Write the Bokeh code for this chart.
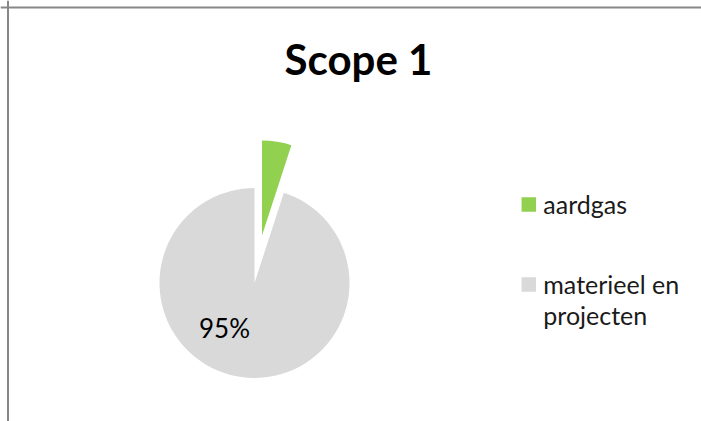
import math
from bokeh.plotting import figure
from bokeh.models import Range1d, Span, ColumnDataSource
from bokeh.core.properties import value
from bokeh.embed import file_html
from bokeh.resources import INLINE

# ---- data ----
title_text = "Scope 1"
categories = ["aardgas", "materieel en\nprojecten"]
shares = [0.05, 0.95]
colors = ["#92D050", "#D9D9D9"]
shown_labels = ["", "95%"]
exploded = [True, False]

# ---- layout ----
W, H = 701, 421
FONT = "Lato"
cx, cy, r = 254, 138.5, 95
explode_px = 48

p = figure(width=W, height=H, output_backend="svg", toolbar_location=None,
           x_range=Range1d(0, W), y_range=Range1d(0, H), min_border=0)
p.axis.visible = False
p.xgrid.visible = False
p.ygrid.visible = False
p.outline_line_color = None
p.background_fill_color = "white"
p.border_fill_color = "white"

# frame lines (top and left)
p.add_layout(Span(location=7.5, dimension="height", line_color="#878787", line_width=2))
p.add_layout(Span(location=H - 7, dimension="width", line_color="#878787", line_width=2))

# wedges (clockwise from 12 o'clock)
xs, ys, starts, ends = [], [], [], []
cum = 0.0
for s, ex in zip(shares, exploded):
    a0 = cum * 2 * math.pi
    a1 = (cum + s) * 2 * math.pi
    mid = (a0 + a1) / 2
    off = explode_px if ex else 0
    xs.append(cx + off * math.sin(mid))
    ys.append(cy + off * math.cos(mid))
    starts.append(math.pi / 2 - a1)
    ends.append(math.pi / 2 - a0)
    cum += s

src = ColumnDataSource(dict(x=xs, y=ys, start=starts, end=ends, color=colors))
p.wedge(x="x", y="y", radius=r, start_angle="start", end_angle="end",
        fill_color="color", line_color=None, source=src)

# data label on the big slice
for lab, s in zip(shown_labels, shares):
    if lab:
        p.text(x=[cx - 30], y=[cy - 45], text=[lab], text_font=value(FONT),
               text_font_size="26px", text_color="#000000",
               text_align="center", text_baseline="alphabetic")

# title
p.text(x=[358], y=[H - 58], text=[title_text], text_font=value(FONT),
       text_font_size="42px", text_font_style="bold", text_color="#000000",
       text_align="center", text_baseline="alphabetic")

# legend
leg_x, leg_y0, leg_gap = 528.3, H - 204, 80
sq = 14.5
for i, (cat, col) in enumerate(zip(categories, colors)):
    yy = leg_y0 - i * leg_gap
    p.rect(x=[leg_x], y=[yy], width=sq, height=sq, fill_color=col, line_color=None)
    for j, line in enumerate(cat.split("\n")):
        p.text(x=[leg_x + 14.5], y=[yy + 1 - j * 31.6], text=[line],
               text_font=value(FONT), text_font_size="25px", text_color="#1a1a1a",
               text_align="left", text_baseline="alphabetic")

open("out.html", "w").write(file_html(p, INLINE))
